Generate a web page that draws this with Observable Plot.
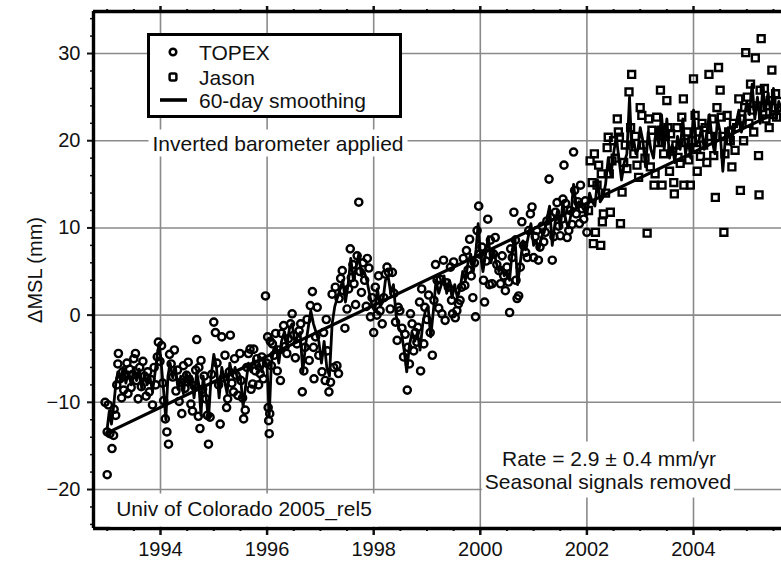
<!DOCTYPE html>
<html><head><meta charset="utf-8">
<script src="https://cdn.jsdelivr.net/npm/d3@7"></script>
<script src="https://cdn.jsdelivr.net/npm/@observablehq/plot@0.6"></script>
<style>
body{margin:0;background:#fff;font-family:"Liberation Sans",Arial,Helvetica,sans-serif;}
#wrap{position:relative;width:781px;height:562px;overflow:hidden;background:#fff;}
#wrap svg{position:absolute;left:0;top:0;}
.ann{position:absolute;background:#fff;color:#111;font-size:21px;line-height:1;white-space:nowrap;transform:translate(-50%,-50%);padding:3px 4px;}
#legend{position:absolute;left:147px;top:33px;width:249px;height:79px;border:3px solid #000;background:#fff;}
.li{position:absolute;left:49px;font-size:21px;line-height:1;color:#111;transform:translateY(-50%);white-space:nowrap;}
.lm{position:absolute;}
</style></head><body><div id="wrap"></div>
<script>
// ---- data (years, mm) ----
const topex = [
[1992.96,-10.0],[1993.0,-13.4],[1993.0,-18.3],[1993.02,-10.3],[1993.05,-13.6],[1993.09,-15.3],[1993.12,-13.8],[1993.13,-10.8],[1993.16,-11.5],[1993.18,-8.0],[1993.2,-5.6],[1993.21,-4.4],[1993.24,-7.3],[1993.27,-9.5],[1993.29,-6.5],[1993.31,-8.6],[1993.34,-7.0],[1993.37,-5.5],[1993.39,-9.0],[1993.42,-6.2],[1993.45,-8.3],[1993.48,-6.8],[1993.5,-5.0],
[1993.53,-4.4],[1993.55,-7.5],[1993.58,-9.6],[1993.61,-6.0],[1993.64,-8.2],[1993.67,-5.3],[1993.7,-7.0],[1993.73,-9.3],[1993.76,-6.5],[1993.79,-8.8],[1993.82,-7.4],[1993.85,-10.3],[1993.88,-6.0],[1993.91,-8.0],[1993.94,-4.8],[1993.96,-3.1],[1993.99,-5.3],
[1994.02,-3.5],[1994.04,-7.8],[1994.06,-9.8],[1994.09,-11.9],[1994.12,-13.4],[1994.15,-14.8],[1994.17,-4.5],[1994.2,-5.6],[1994.23,-7.1],[1994.26,-4.0],[1994.29,-8.7],[1994.32,-6.3],[1994.35,-9.9],[1994.38,-7.7],[1994.4,-11.3],[1994.43,-5.8],[1994.46,-8.4],[1994.49,-6.9],
[1994.52,-5.4],[1994.54,-7.4],[1994.57,-10.2],[1994.6,-11.0],[1994.63,-8.1],[1994.66,-6.3],[1994.68,-2.8],[1994.71,-11.6],[1994.72,-6.0],[1994.74,-13.0],[1994.76,-5.2],[1994.79,-8.5],[1994.82,-7.0],[1994.85,-9.6],[1994.88,-11.5],[1994.9,-14.8],[1994.93,-11.7],[1994.96,-6.8],[1995.0,-0.8],
[1995.03,-2.0],[1995.06,-5.5],[1995.09,-8.0],[1995.12,-12.5],[1995.15,-2.5],[1995.18,-7.2],[1995.21,-4.6],[1995.24,-10.6],[1995.26,-9.6],[1995.29,-6.5],[1995.31,-2.3],[1995.34,-7.8],[1995.37,-8.8],[1995.39,-5.0],[1995.42,-6.9],[1995.45,-9.2],[1995.49,-4.4],[1995.51,-7.5],
[1995.54,-9.5],[1995.56,-11.9],[1995.59,-10.9],[1995.62,-6.0],[1995.65,-4.4],[1995.68,-3.9],[1995.7,-8.5],[1995.73,-7.9],[1995.75,-3.9],[1995.78,-6.4],[1995.81,-5.0],[1995.84,-8.0],[1995.87,-6.7],[1995.9,-4.8],[1995.93,-7.3],[1995.97,2.2],[1995.99,-5.5],
[1996.01,-2.5],[1996.02,-10.6],[1996.03,-12.1],[1996.04,-13.6],[1996.05,-11.3],[1996.06,-3.0],[1996.08,-5.8],[1996.1,-3.3],[1996.13,-4.6],[1996.16,-2.1],[1996.19,-6.4],[1996.22,-4.0],[1996.25,-7.5],[1996.27,-2.1],[1996.31,-1.2],[1996.34,-3.6],[1996.37,-4.4],[1996.4,-2.7],[1996.44,-1.0],[1996.47,0.15],
[1996.5,-2.3],[1996.53,-4.9],[1996.56,-3.3],[1996.6,-1.8],[1996.63,-1.0],[1996.66,-8.8],[1996.69,-6.4],[1996.71,-3.7],[1996.75,-0.5],[1996.79,-5.2],[1996.81,1.1],[1996.85,2.7],[1996.87,-3.7],[1996.88,-7.3],[1996.91,-2.5],[1996.94,0.9],[1996.97,-4.6],
[1997.03,-6.5],[1997.06,-2.0],[1997.09,-7.5],[1997.11,-0.5],[1997.13,-4.1],[1997.16,-8.8],[1997.19,-7.7],[1997.22,2.4],[1997.25,-6.0],[1997.28,3.2],[1997.31,-5.8],[1997.34,-6.7],[1997.35,1.9],[1997.38,4.2],[1997.41,5.1],[1997.43,2.8],[1997.46,-1.5],[1997.5,0.7],
[1997.53,3.0],[1997.56,7.6],[1997.58,4.3],[1997.61,5.8],[1997.63,3.6],[1997.66,1.2],[1997.69,6.8],[1997.72,12.95],[1997.74,5.0],[1997.77,2.6],[1997.8,6.0],[1997.83,4.0],[1997.86,1.0],[1997.88,6.5],[1997.91,5.4],[1997.94,-0.2],[1997.97,2.0],
[1998.0,-2.0],[1998.03,3.2],[1998.06,0.0],[1998.09,4.5],[1998.12,0.5],[1998.16,-1.0],[1998.19,2.0],[1998.22,4.7],[1998.25,5.5],[1998.28,4.9],[1998.31,0.7],[1998.35,4.9],[1998.38,2.5],[1998.41,-0.8],[1998.44,-2.9],[1998.46,0.9],[1998.49,0.5],
[1998.53,-1.5],[1998.56,-4.8],[1998.59,-2.2],[1998.63,-8.6],[1998.64,-3.7],[1998.67,-5.6],[1998.69,0.15],[1998.72,-1.0],[1998.75,-4.1],[1998.78,-2.0],[1998.81,-3.1],[1998.83,-1.4],[1998.86,1.5],[1998.88,-6.4],[1998.9,3.0],[1998.94,-3.3],[1998.96,0.9],
[1999.0,-0.5],[1999.03,2.3],[1999.06,-2.0],[1999.1,-4.6],[1999.13,1.7],[1999.16,5.8],[1999.19,4.0],[1999.22,0.8],[1999.25,4.1],[1999.28,0.15],[1999.31,6.3],[1999.34,-0.6],[1999.37,3.7],[1999.4,3.2],[1999.44,5.5],[1999.46,1.7],[1999.48,0.15],[1999.5,6.1],
[1999.53,-0.3],[1999.56,0.5],[1999.59,1.3],[1999.62,1.7],[1999.65,3.2],[1999.68,6.5],[1999.71,3.4],[1999.74,7.4],[1999.77,5.2],[1999.8,8.7],[1999.83,4.5],[1999.86,2.0],[1999.89,6.0],[1999.91,-0.2],[1999.94,9.7],[1999.97,12.5],[1999.99,7.0],
[2000.03,7.8],[2000.06,4.0],[2000.08,1.5],[2000.11,6.2],[2000.14,11.0],[2000.17,3.5],[2000.19,8.6],[2000.22,3.6],[2000.25,7.0],[2000.28,8.9],[2000.31,5.8],[2000.35,5.1],[2000.38,3.6],[2000.41,6.8],[2000.44,4.5],[2000.47,2.8],[2000.5,5.5],
[2000.53,3.8],[2000.55,0.3],[2000.57,7.6],[2000.6,6.6],[2000.63,11.8],[2000.66,8.6],[2000.67,4.0],[2000.69,1.9],[2000.72,2.2],[2000.75,5.5],[2000.78,10.7],[2000.81,8.0],[2000.85,7.2],[2000.88,6.6],[2000.91,9.7],[2000.94,11.6],[2000.97,12.4],[2001.0,6.6],
[2001.03,9.0],[2001.06,9.7],[2001.09,6.3],[2001.12,7.8],[2001.16,10.2],[2001.19,8.4],[2001.22,9.5],[2001.25,10.8],[2001.29,15.6],[2001.32,11.2],[2001.35,6.3],[2001.38,9.0],[2001.41,11.8],[2001.44,12.9],[2001.47,10.2],[2001.5,9.1],
[2001.53,11.0],[2001.55,13.3],[2001.57,17.2],[2001.6,12.8],[2001.63,8.9],[2001.66,9.7],[2001.69,12.0],[2001.72,10.4],[2001.75,18.7],[2001.77,14.3],[2001.8,11.6],[2001.83,13.0],[2001.86,10.5],[2001.88,14.9],[2001.91,12.2],[2001.94,11.0],[2001.97,13.1],[2002.0,9.5]
];
const jason = [
[2002.03,12.0],[2002.06,17.7],[2002.1,15.2],[2002.12,8.2],[2002.14,18.5],[2002.16,9.5],[2002.19,14.9],[2002.22,17.2],[2002.26,8.0],[2002.27,16.2],[2002.29,10.7],[2002.31,11.6],[2002.35,14.0],[2002.38,19.2],[2002.4,20.4],[2002.42,16.2],[2002.44,11.8],[2002.47,17.7],
[2002.5,20.0],[2002.53,18.0],[2002.57,22.5],[2002.59,21.0],[2002.61,20.4],[2002.63,10.5],[2002.66,14.1],[2002.69,17.5],[2002.72,19.5],[2002.75,16.8],[2002.79,25.6],[2002.82,21.5],[2002.84,27.6],[2002.88,18.5],[2002.91,20.5],[2002.94,17.2],[2002.97,15.8],[2003.0,23.8],
[2003.03,22.9],[2003.06,19.5],[2003.09,18.0],[2003.13,9.4],[2003.16,22.5],[2003.19,17.0],[2003.22,21.2],[2003.26,14.9],[2003.28,16.2],[2003.31,22.7],[2003.34,19.8],[2003.38,25.8],[2003.4,21.2],[2003.41,14.9],[2003.44,18.5],[2003.47,20.5],[2003.5,24.6],
[2003.52,21.5],[2003.55,16.5],[2003.57,20.8],[2003.6,18.8],[2003.63,15.2],[2003.64,13.9],[2003.67,19.5],[2003.69,21.5],[2003.71,18.1],[2003.75,17.4],[2003.78,22.7],[2003.81,24.8],[2003.82,14.9],[2003.85,19.8],[2003.88,21.0],[2003.91,17.8],[2003.94,14.9],[2003.97,20.0],[2004.0,27.1],
[2004.03,22.9],[2004.06,19.0],[2004.07,16.5],[2004.1,21.0],[2004.13,18.2],[2004.16,22.0],[2004.19,19.5],[2004.22,21.5],[2004.25,17.5],[2004.29,27.6],[2004.32,20.5],[2004.35,22.5],[2004.38,18.3],[2004.41,13.5],[2004.44,23.8],[2004.47,28.4],[2004.5,25.8],[2004.52,22.7],
[2004.55,20.5],[2004.57,9.5],[2004.59,18.5],[2004.63,22.9],[2004.66,21.0],[2004.69,20.0],[2004.72,17.0],[2004.75,22.0],[2004.78,18.9],[2004.81,21.5],[2004.85,24.8],[2004.88,14.3],[2004.91,22.5],[2004.94,20.0],[2004.96,23.8],[2004.98,30.1],
[2005.01,25.0],[2005.04,22.0],[2005.07,26.5],[2005.1,23.5],[2005.13,21.0],[2005.16,29.5],[2005.19,24.0],[2005.22,18.3],[2005.23,13.8],[2005.25,25.8],[2005.27,31.7],[2005.3,23.0],[2005.33,26.0],[2005.36,22.5],[2005.39,24.0],[2005.42,21.5],[2005.44,24.6],[2005.47,28.1],[2005.5,23.0],[2005.54,25.4],[2005.56,22.7],[2005.6,24.5]
];
const smoothYear = [1993.0,1993.04,1993.08,1993.12,1993.16,1993.2,1993.25,1993.3,1993.35,1993.4,1993.45,1993.5,1993.55,1993.6,1993.65,1993.7,1993.75,1993.8,1993.85,1993.9,1993.95,1993.98,1994.02,1994.07,1994.1,1994.14,1994.18,1994.23,1994.28,1994.33,1994.38,1994.43,1994.48,1994.53,1994.58,1994.63,1994.68,1994.72,1994.76,1994.8,1994.85,1994.9,1994.95,1995.0,1995.05,1995.1,1995.15,1995.2,1995.25,1995.3,1995.35,1995.4,1995.45,1995.5,1995.55,1995.6,1995.65,1995.7,1995.75,1995.8,1995.85,1995.9,1995.95,1996.0,1996.04,1996.08,1996.12,1996.17,1996.22,1996.27,1996.32,1996.37,1996.42,1996.47,1996.52,1996.57,1996.62,1996.67,1996.72,1996.77,1996.82,1996.87,1996.92,1996.97,1997.02,1997.07,1997.12,1997.17,1997.22,1997.27,1997.32,1997.37,1997.42,1997.47,1997.52,1997.57,1997.62,1997.67,1997.72,1997.77,1997.82,1997.87,1997.92,1997.97,1998.02,1998.07,1998.12,1998.17,1998.22,1998.27,1998.32,1998.37,1998.42,1998.47,1998.52,1998.57,1998.62,1998.67,1998.72,1998.77,1998.82,1998.87,1998.92,1998.97,1999.02,1999.07,1999.12,1999.17,1999.22,1999.27,1999.32,1999.37,1999.42,1999.47,1999.52,1999.57,1999.62,1999.67,1999.72,1999.77,1999.82,1999.87,1999.92,1999.96,2000.0,2000.05,2000.1,2000.15,2000.2,2000.25,2000.3,2000.35,2000.4,2000.45,2000.5,2000.55,2000.6,2000.65,2000.7,2000.75,2000.8,2000.85,2000.9,2000.95,2001.0,2001.05,2001.1,2001.15,2001.2,2001.25,2001.3,2001.35,2001.4,2001.45,2001.5,2001.55,2001.6,2001.65,2001.7,2001.75,2001.8,2001.85,2001.9,2001.95,2002.0,2002.05,2002.1,2002.15,2002.2,2002.25,2002.3,2002.35,2002.4,2002.45,2002.5,2002.55,2002.6,2002.65,2002.7,2002.75,2002.8,2002.84,2002.88,2002.92,2002.96,2003.0,2003.05,2003.1,2003.15,2003.2,2003.25,2003.3,2003.35,2003.4,2003.45,2003.5,2003.55,2003.6,2003.65,2003.7,2003.75,2003.8,2003.85,2003.9,2003.95,2004.0,2004.05,2004.1,2004.15,2004.2,2004.25,2004.3,2004.35,2004.4,2004.45,2004.5,2004.55,2004.6,2004.65,2004.7,2004.75,2004.8,2004.85,2004.9,2004.95,2005.0,2005.05,2005.1,2005.15,2005.2,2005.25,2005.3,2005.35,2005.4,2005.45,2005.5,2005.55,2005.6,2005.65];
const smoothMm = [-13.0,-11.0,-12.5,-10.5,-8.0,-6.5,-7.5,-6.0,-7.8,-6.5,-8.0,-6.0,-7.5,-6.2,-8.5,-6.8,-8.0,-7.0,-8.8,-6.5,-4.0,-3.5,-6.0,-9.5,-12.0,-7.0,-5.5,-7.2,-6.0,-8.5,-7.0,-9.0,-6.5,-8.0,-7.0,-9.5,-6.5,-8.0,-11.5,-7.0,-9.0,-12.0,-7.0,-4.5,-6.0,-9.5,-6.0,-7.5,-9.0,-5.5,-7.0,-6.0,-7.5,-7.0,-10.5,-8.0,-5.5,-6.5,-5.0,-6.2,-5.5,-6.5,-5.0,-6.0,-11.5,-5.5,-4.0,-3.5,-5.5,-3.0,-2.0,-3.5,-1.5,-1.0,-3.0,-2.5,-2.0,-6.5,-3.5,-1.5,0.5,-1.0,-2.0,-3.0,-5.5,-3.0,-6.0,-7.0,-1.0,1.0,2.0,3.0,4.0,1.5,3.5,6.5,4.0,5.5,7.0,4.5,5.0,4.0,2.5,1.0,0.5,3.0,1.0,1.5,4.0,4.5,2.5,3.5,0.0,-1.5,-2.0,-4.0,-6.5,-3.5,-2.0,-3.0,-2.0,-4.0,-1.0,0.5,1.0,-2.5,0.5,4.0,2.5,3.5,4.5,2.5,4.0,2.0,3.5,2.0,3.0,5.0,4.0,6.0,7.0,5.0,7.5,10.5,7.0,5.0,7.0,9.0,6.0,7.5,6.0,5.0,5.5,4.5,5.0,4.0,7.5,9.0,3.5,6.0,8.5,7.5,9.0,10.5,8.0,8.5,7.5,9.0,9.5,11.0,12.5,8.0,10.5,12.0,10.0,13.0,11.0,10.0,11.5,15.0,12.5,13.0,12.5,12.0,11.5,14.0,13.0,12.5,15.5,13.0,13.5,15.0,18.0,16.0,18.5,20.5,18.0,15.5,17.5,18.5,25.0,19.0,20.0,18.5,19.0,21.5,20.0,17.0,21.0,19.0,18.0,21.5,19.5,23.0,19.0,22.5,18.0,19.5,17.5,20.5,19.0,22.5,18.5,20.0,18.0,23.5,19.5,20.0,21.5,19.0,21.0,23.0,20.0,18.5,22.5,21.0,16.5,20.5,21.5,19.5,21.0,22.0,23.5,21.0,22.5,24.5,23.0,26.5,22.5,25.0,22.0,26.0,23.5,25.5,23.0,26.0,22.5,24.5,23.5];
const trendYear = [1993.0, 2005.65];
const trendMm = [-13.5, 23.5];
const xMajor = [1994, 1996, 1998, 2000, 2002, 2004];
const xMinor = [1993, 1993.5, 1994.5, 1995, 1995.5, 1996.5, 1997, 1997.5, 1998.5, 1999, 1999.5, 2000.5, 2001, 2001.5, 2002.5, 2003, 2003.5, 2004.5, 2005, 2005.5];
const yMajor = [-20, -10, 0, 10, 20, 30];
const yMinor = [-24,-22,-18,-16,-14,-12,-8,-6,-4,-2,2,4,6,8,12,14,16,18,22,24,26,28,32,34];
const xDomain = [1992.743, 2005.651];
const yDomain = [-24.47, 34.82];
const legendLabels = ["TOPEX", "Jason", "60-day smoothing"];
const notes = {
  ib: "Inverted barometer applied",
  rate: "Rate = 2.9 \u00b1 0.4 mm/yr",
  seas: "Seasonal signals removed",
  src: "Univ of Colorado 2005_rel5",
  ylabel: "\u0394MSL (mm)"
};

const smooth = smoothYear.map((t, i) => ({t, v: smoothMm[i]}));
const trend = trendYear.map((t, i) => ({t, v: trendMm[i]}));
const grid = "#8a8a8a";

const chart = Plot.plot({
  width: 781, height: 562,
  marginLeft: 93, marginTop: 11, marginBottom: 34, marginRight: 0,
  style: {fontFamily: "'Liberation Sans', Arial, Helvetica, sans-serif", fontSize: "20px", color: "#111", background: "#fff"},
  x: {domain: xDomain, axis: null},
  y: {domain: yDomain, axis: null},
  marks: [
    Plot.gridX(xMajor, {stroke: grid, strokeOpacity: 1, strokeWidth: 1.6}),
    Plot.gridY(yMajor, {stroke: grid, strokeOpacity: 1, strokeWidth: 1.6}),
    Plot.dot(topex, {x: d => d[0], y: d => d[1], r: 3.6, stroke: "#000", strokeWidth: 2.4, fill: "none", symbol: "circle"}),
    Plot.dot(jason, {x: d => d[0], y: d => d[1], r: 3.9, stroke: "#000", strokeWidth: 2.4, fill: "none", symbol: "square"}),
    Plot.line(smooth, {x: "t", y: "v", stroke: "#000", strokeWidth: 2.8, strokeLinejoin: "round"}),
    Plot.line(trend, {x: "t", y: "v", stroke: "#000", strokeWidth: 3.2}),
    Plot.axisX(xMajor, {anchor: "bottom", tickSize: 7, tickPadding: 6, tickFormat: d => String(d), fontSize: 20, label: null, strokeWidth: 2.5}),
    Plot.axisX(xMinor, {anchor: "bottom", tickSize: 3, tickFormat: () => "", label: null, strokeWidth: 2}),
    Plot.axisX(xMajor, {anchor: "top", tickSize: 6, tickFormat: () => "", label: null, strokeWidth: 2.5}),
    Plot.axisX(xMinor, {anchor: "top", tickSize: 3, tickFormat: () => "", label: null, strokeWidth: 2}),
    Plot.axisY(yMajor, {anchor: "left", tickSize: 6, tickPadding: 7, fontSize: 20, label: notes.ylabel, labelAnchor: "center", labelArrow: "none", labelOffset: 66, strokeWidth: 2}),
    Plot.axisY(yMinor, {anchor: "left", tickSize: 3, tickFormat: () => "", label: null, strokeWidth: 1.5}),
    Plot.ruleX([xDomain[0]], {stroke: "#000", strokeWidth: 3.4}),
    Plot.ruleY([yDomain[0], yDomain[1]], {stroke: "#000", strokeWidth: 3.4})
  ]
});

const wrap = document.getElementById("wrap");
wrap.appendChild(chart);

function note(text, cx, cy) {
  const d = document.createElement("div");
  d.className = "ann";
  d.textContent = text;
  d.style.left = cx + "px";
  d.style.top = cy + "px";
  wrap.appendChild(d);
  return d;
}
note(notes.ib, 278, 143);
const r1 = note(notes.rate, 609, 457); r1.style.padding = "6px 14px 4px";
const r2 = note(notes.seas, 608, 483); r2.style.padding = "2px 3px 6px";
const src = note(notes.src, 244, 510); src.style.padding = "4px 6px 8px";

// legend
const lg = document.createElement("div");
lg.id = "legend";
const svgNS = "http://www.w3.org/2000/svg";
function icon(kind, cy) {
  const s = document.createElementNS(svgNS, "svg");
  s.setAttribute("width", 34); s.setAttribute("height", 14);
  s.setAttribute("class", "lm");
  s.style.left = "6px"; s.style.top = (cy - 7) + "px";
  let el;
  if (kind === "circle") { el = document.createElementNS(svgNS, "circle"); el.setAttribute("cx", 17); el.setAttribute("cy", 7); el.setAttribute("r", 3.3); }
  else if (kind === "square") { el = document.createElementNS(svgNS, "rect"); el.setAttribute("x", 13.6); el.setAttribute("y", 3.6); el.setAttribute("width", 6.8); el.setAttribute("height", 6.8); el.setAttribute("rx", 1.6); }
  else { el = document.createElementNS(svgNS, "line"); el.setAttribute("x1", 4); el.setAttribute("x2", 31); el.setAttribute("y1", 7); el.setAttribute("y2", 7); el.setAttribute("stroke-width", 3.6); }
  el.setAttribute("fill", "none"); el.setAttribute("stroke", "#000");
  if (kind !== "line") el.setAttribute("stroke-width", 2.5);
  s.appendChild(el);
  lg.appendChild(s);
}
const rows = [16, 41, 64];
const kinds = ["circle", "square", "line"];
legendLabels.forEach((lab, i) => {
  icon(kinds[i], rows[i]);
  const t = document.createElement("div");
  t.className = "li"; t.textContent = lab; t.style.top = rows[i] + "px";
  lg.appendChild(t);
});
wrap.appendChild(lg);
</script></body></html>
